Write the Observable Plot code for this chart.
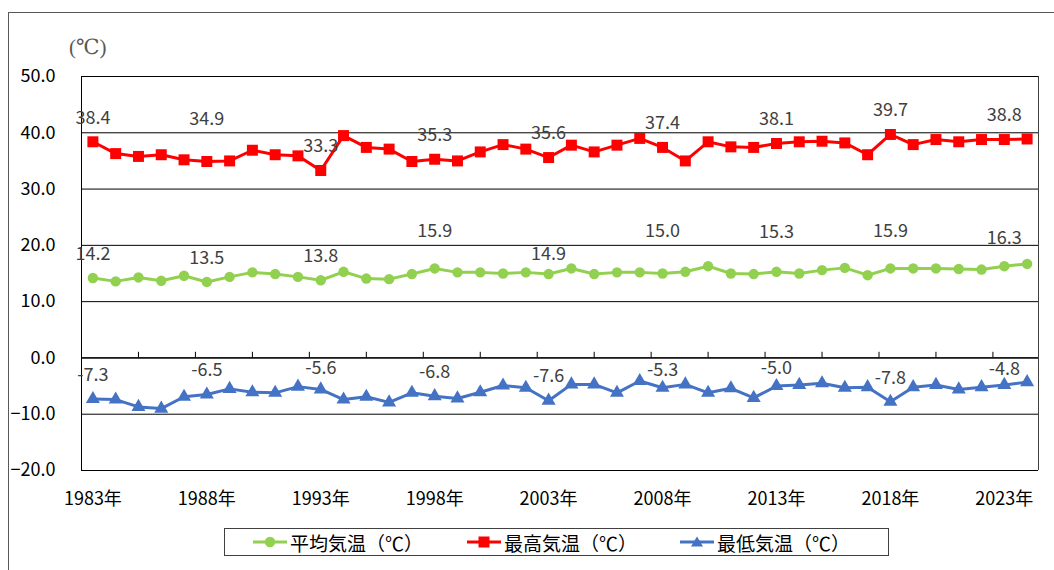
<!DOCTYPE html>
<html>
<head>
<meta charset="utf-8">
<script src="https://cdn.jsdelivr.net/npm/d3@7"></script>
<script src="https://cdn.jsdelivr.net/npm/@observablehq/plot@0.6"></script>
<style>
  html, body { margin: 0; padding: 0; background: #fff; }
  #wrap { position: relative; width: 1054px; height: 570px; overflow: hidden; font-family: 'Noto Sans CJK JP', 'Noto Sans', sans-serif; }
  #outer { position: absolute; left: 8px; top: 12px; width: 1100px; height: 600px; border-left: 1px solid #595959; border-top: 1px solid #595959; }
  #chart { position: absolute; left: 0; top: 0; }
  #unit { position: absolute; left: 69px; top: 35px; font-family: 'Liberation Serif', 'DejaVu Serif', serif; font-size: 21px; color: #595959; }
  #legend { position: absolute; left: 224px; top: 528px; width: 665px; height: 28px; border: 1px solid #404040; box-sizing: border-box; }
  .item { position: absolute; top: 0; height: 26px; display: flex; align-items: center; font-size: 19px; color: #000; }
  .item svg { margin-right: 3px; }
</style>
</head>
<body>
<div id="wrap">
  <div id="outer"></div>
  <div id="chart"></div>
  <div id="unit">(℃)</div>
  <div id="legend"></div>
</div>
<script>
const years = [1983,1984,1985,1986,1987,1988,1989,1990,1991,1992,
               1993,1994,1995,1996,1997,1998,1999,2000,2001,2002,
               2003,2004,2005,2006,2007,2008,2009,2010,2011,2012,
               2013,2014,2015,2016,2017,2018,2019,2020,2021,2022,
               2023,2024];
const avgTemp = [14.2,13.6,14.3,13.7,14.6,13.5,14.4,15.2,14.9,14.4,
                 13.8,15.3,14.1,14.0,14.9,15.9,15.2,15.2,15.0,15.2,
                 14.9,15.9,14.9,15.2,15.2,15.0,15.3,16.3,15.0,14.9,
                 15.3,15.0,15.6,16.0,14.7,15.9,15.9,15.9,15.8,15.7,
                 16.3,16.7];
const maxTemp = [38.4,36.3,35.8,36.1,35.2,34.9,35.0,36.9,36.1,35.9,
                 33.3,39.5,37.4,37.1,34.9,35.3,35.0,36.6,37.9,37.1,
                 35.6,37.8,36.6,37.8,39.0,37.4,35.0,38.4,37.5,37.4,
                 38.1,38.4,38.5,38.2,36.1,39.7,37.9,38.8,38.4,38.8,
                 38.8,38.9];
const minTemp = [-7.3,-7.4,-8.7,-9.0,-6.9,-6.5,-5.5,-6.1,-6.2,-5.1,
                 -5.6,-7.4,-6.9,-7.9,-6.2,-6.8,-7.2,-6.1,-4.9,-5.3,
                 -7.6,-4.7,-4.7,-6.2,-4.1,-5.3,-4.7,-6.2,-5.4,-7.1,
                 -5.0,-4.8,-4.5,-5.3,-5.2,-7.8,-5.2,-4.8,-5.6,-5.2,
                 -4.8,-4.3];
const yTicks = [-20,-10,0,10,20,30,40,50];
const xLabelYears = [1983,1988,1993,1998,2003,2008,2013,2018,2023];
const seriesNames = ["平均気温（℃）","最高気温（℃）","最低気温（℃）"];

const colors = {avg: "#92D050", max: "#FF0000", min: "#4472C4"};

// label vertical offsets (styling only)
const labelDy = {
  avg: {1998: -37, 2003: -20, 2008: -42, 2013: -40, 2018: -37, 2023: -28},
  max: {1988: -42},
  min: {1993: -21, 2008: -18, 2013: -18, 2023: -16}
};

const rows = (key, vals) => years.map((yr, i) => ({year: yr, v: vals[i], key}));
const avgRows = rows("avg", avgTemp);
const maxRows = rows("max", maxTemp);
const minRows = rows("min", minTemp);
const labelRows = [...avgRows, ...maxRows, ...minRows]
  .filter(d => xLabelYears.includes(d.year))
  .map(d => ({...d, dy: (labelDy[d.key][d.year] ?? -24)}));

const catTicks = d3.range(1985, 2024.5, 2.5);

const lineWithDots = (data, color, symbol, r) => [
  Plot.line(data, {x: "year", y: "v", stroke: color, strokeWidth: 3}),
  Plot.dot(data, {x: "year", y: "v", fill: color, stroke: "none", symbol, r})
];

const chart = Plot.plot({
  width: 1054,
  height: 520,
  marginLeft: 81,
  marginRight: 16,
  marginTop: 76,
  marginBottom: 50,
  style: {fontFamily: "'Noto Sans CJK JP', 'Noto Sans', sans-serif", fontSize: "18px", background: "transparent", overflow: "visible"},
  x: {domain: [1982.5, 2024.5]},
  y: {domain: [-20, 50]},
  marks: [
    Plot.ruleY(yTicks, {stroke: "#000", strokeWidth: 1}),
    Plot.ruleY([0], {stroke: "#000", strokeWidth: 1.3}),
    Plot.ruleX([1982.5], {stroke: "#000", strokeWidth: 1}),
    Plot.ruleX([2024.5], {stroke: "#404040", strokeWidth: 1}),
    Plot.ruleX(catTicks, {y1: 0, y2: 1, stroke: "#000", strokeWidth: 1}),
    Plot.axisY({ticks: yTicks, tickSize: 0, tickPadding: 26, tickFormat: d3.format(".1f"), fill: "#000", fontSize: 18, label: null}),
    Plot.axisX({ticks: xLabelYears, tickSize: 0, tickPadding: 22, tickFormat: d => d + "年", fill: "#000", fontSize: 18, label: null}),
    ...lineWithDots(maxRows, colors.max, "square", 6.2),
    ...lineWithDots(avgRows, colors.avg, "circle", 5.2),
    ...lineWithDots(minRows, colors.min, "triangle", 5.2),
    Plot.text(labelRows, {x: "year", y: "v", text: d => d.v.toFixed(1), fill: "#404040", fontSize: 18})
  ]
});
document.getElementById("chart").appendChild(chart);

// apply per-label vertical offsets
{
  const texts = chart.querySelectorAll("g[aria-label='text'] text");
  texts.forEach((t, i) => {
    const d = labelRows[i];
    if (d) t.setAttribute("transform", (t.getAttribute("transform") || "") + ` translate(0,${d.dy})`);
  });
}

// legend
const legend = document.getElementById("legend");
const legendItems = [
  {name: seriesNames[0], color: colors.avg, shape: "circle", left: 28},
  {name: seriesNames[1], color: colors.max, shape: "square", left: 242},
  {name: seriesNames[2], color: colors.min, shape: "triangle", left: 455}
];
legendItems.forEach(it => {
  const div = document.createElement("div");
  div.className = "item";
  div.style.left = it.left + "px";
  let marker;
  if (it.shape === "circle") marker = `<circle cx="17" cy="13" r="5.2" fill="${it.color}"/>`;
  else if (it.shape === "square") marker = `<rect x="11.5" y="7.5" width="11" height="11" fill="${it.color}"/>`;
  else marker = `<path d="M17,7.5 L23,17.5 L11,17.5 Z" fill="${it.color}"/>`;
  div.innerHTML = `<svg width="34" height="26"><line x1="0" y1="13" x2="34" y2="13" stroke="${it.color}" stroke-width="3"/>${marker}</svg><span>${it.name}</span>`;
  legend.appendChild(div);
});
</script>
</body>
</html>
